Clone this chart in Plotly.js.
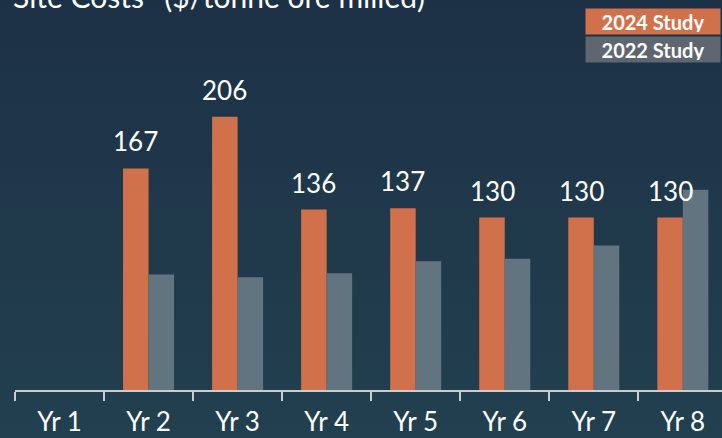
<!DOCTYPE html>
<html>
<head>
<meta charset="utf-8">
<script src="https://cdn.plot.ly/plotly-3.0.1.min.js"></script>
<style>
  html, body { margin: 0; padding: 0; }
  body { width: 722px; height: 438px; overflow: hidden;
         background: linear-gradient(to bottom, #1d3146 0%, #22404f 100%); }
  #chart { width: 722px; height: 438px; }
</style>
</head>
<body>
<div id="chart"></div>
<script>
const categories = ['Yr 1', 'Yr 2', 'Yr 3', 'Yr 4', 'Yr 5', 'Yr 6', 'Yr 7', 'Yr 8'];
const study2024 = [null, 167, 206, 136, 137, 130, 130, 130];
const study2022 = [null, 87, 85, 88, 97, 99, 109, 151];
const seriesNames = ['2024 Study', '2022 Study'];
const titleText = 'Site Costs* ($/tonne ore milled)';

const orange = '#d0714b';
const grayBar = '#627480';
const grayLegend = '#5e6670';

const traces = [
  { type: 'bar', name: seriesNames[0], x: categories, y: study2024,
    marker: { color: orange }, hoverinfo: 'skip' },
  { type: 'bar', name: seriesNames[1], x: categories, y: study2022,
    marker: { color: grayBar }, hoverinfo: 'skip' }
];

const annotations = [];
study2024.forEach((v, i) => {
  if (v === null) return;
  annotations.push({
    x: categories[i], y: v, xref: 'x', yref: 'y',
    xshift: -12.7, yanchor: 'bottom', yshift: 9,
    text: String(v), showarrow: false,
    font: { family: 'Lato', size: 26, color: '#ffffff' }
  });
});
annotations.push({
  x: 0, y: 1, xref: 'paper', yref: 'paper', xanchor: 'left', yanchor: 'bottom',
  xshift: -4, yshift: -16, text: titleText, showarrow: false,
  font: { family: 'Lato', size: 30, color: '#ffffff' }
});
[[seriesNames[0], orange, 21.5], [seriesNames[1], grayLegend, 49.5]].forEach(([t, c, cy]) => {
  annotations.push({
    x: 1, y: 1, xref: 'paper', yref: 'paper', xanchor: 'right', yanchor: 'middle',
    yshift: -cy, xshift: -1, text: '<b>' + t + '</b>', showarrow: false,
    bgcolor: c, width: 130, height: 21, borderpad: 2, align: 'center',
    font: { family: 'Lato', size: 20, color: '#ffffff' }
  });
});

const layout = {
  width: 722, height: 438,
  margin: { l: 15, r: 0, t: 0, b: 48 },
  paper_bgcolor: 'rgba(0,0,0,0)', plot_bgcolor: 'rgba(0,0,0,0)',
  barmode: 'group', bargap: 0.427, bargroupgap: 0,
  showlegend: false,
  xaxis: {
    type: 'category', range: [-0.5, 7.44], tickson: 'boundaries',
    showline: true, linecolor: '#c9cdd0', linewidth: 2,
    ticks: 'outside', ticklen: 9, tickwidth: 2, tickcolor: '#c9cdd0',
    ticklabelstandoff: 8,
    tickfont: { family: 'Lato', size: 26, color: '#ffffff' },
    showgrid: false, zeroline: false, fixedrange: true
  },
  yaxis: {
    range: [0, 294], visible: false, showgrid: false, zeroline: false, fixedrange: true
  },
  annotations: annotations
};

Plotly.newPlot('chart', traces, layout, { displayModeBar: false, staticPlot: true });
</script>
</body>
</html>
